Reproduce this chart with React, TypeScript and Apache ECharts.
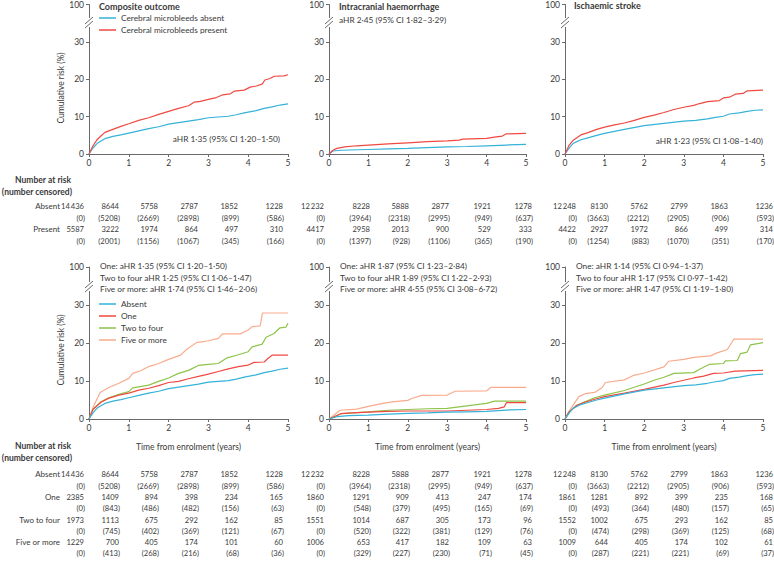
import React, { useEffect, useRef } from "react";
import * as echarts from "echarts";

// ---------- DATA ----------
const xTicks = [0, 1, 2, 3, 4, 5];
const yTickLabels = ["0", "10", "20", "30", "100"];

const titles = ["Composite outcome", "Intracranial haemorrhage", "Ischaemic stroke"];
const topGroups = ["Cerebral microbleeds absent", "Cerebral microbleeds present"];
const bottomGroups = ["Absent", "One", "Two to four", "Five or more"];
const topRowLabels = ["Absent", "Present"];

const topAHR = [
  "aHR 1·35 (95% CI 1·20–1·50)",
  "aHR 2·45 (95% CI 1·82–3·29)",
  "aHR 1·23 (95% CI 1·08–1·40)",
];
const bottomAHR = [
  ["One: aHR 1·35 (95% CI 1·20–1·50)", "Two to four aHR 1·25 (95% CI 1·06–1·47)", "Five or more: aHR 1·74 (95% CI 1·46–2·06)"],
  ["One: aHR 1·87 (95% CI 1·23–2·84)", "Two to four aHR 1·89 (95% CI 1·22–2·93)", "Five or more: aHR 4·55 (95% CI 3·08–6·72)"],
  ["One: aHR 1·14 (95% CI 0·94–1·37)", "Two to four aHR 1·17 (95% CI 0·97–1·42)", "Five or more: aHR 1·47 (95% CI 1·19–1·80)"],
];

// cumulative risk curves [years, %]
const compAbsent = [[0,0],[0.1,1.6],[0.2,2.8],[0.3,3.5],[0.4,4.1],[0.6,4.7],[0.8,5.1],[1,5.6],[1.25,6.2],[1.5,6.8],[1.75,7.3],[2,8.0],[2.25,8.4],[2.5,8.8],[2.75,9.2],[3,9.7],[3.25,9.9],[3.5,10.1],[3.7,10.5],[3.9,11.0],[4,11.2],[4.2,11.6],[4.4,12.2],[4.6,12.6],[4.8,13.1],[5,13.4]];
const compPresent = [[0,0],[0.1,2.2],[0.2,3.8],[0.3,4.8],[0.4,5.8],[0.6,6.6],[0.8,7.4],[1,8.1],[1.25,9.0],[1.5,9.7],[1.75,10.6],[2,11.4],[2.25,12.2],[2.5,12.9],[2.65,13.9],[2.8,14.1],[3,14.6],[3.2,15.1],[3.35,15.8],[3.55,16.1],[3.65,16.8],[3.9,17.1],[4.05,17.9],[4.2,18.2],[4.35,18.7],[4.42,19.8],[4.55,20.2],[4.65,20.8],[4.9,20.9],[5,21.2]];
const ichAbsent = [[0,0],[0.1,0.8],[0.3,1.0],[1,1.2],[1.5,1.35],[2,1.5],[2.5,1.7],[3,1.9],[3.5,2.0],[4,2.2],[4.5,2.4],[5,2.6]];
const ichPresent = [[0,0],[0.1,1.0],[0.2,1.5],[0.4,1.9],[0.7,2.2],[1,2.4],[1.5,2.7],[2,3.0],[2.5,3.3],[3,3.5],[3.3,3.7],[3.4,4.0],[4,4.2],[4.2,4.5],[4.4,4.8],[4.5,5.4],[5,5.5]];
const isAbsent = [[0,0],[0.1,1.5],[0.2,2.8],[0.3,3.3],[0.4,3.8],[0.6,4.4],[0.8,5.0],[1,5.5],[1.5,6.6],[2,7.6],[2.5,8.2],[3,8.8],[3.3,9.0],[3.6,9.4],[3.8,9.8],[4,10.1],[4.15,10.7],[4.4,11.0],[4.6,11.4],[4.8,11.7],[5,11.8]];
const isPresent = [[0,0],[0.1,2.3],[0.2,3.6],[0.4,5.1],[0.6,5.8],[0.8,6.6],[1,7.2],[1.25,7.8],[1.5,8.3],[1.75,9.0],[2,9.8],[2.25,10.4],[2.5,11.1],[2.75,11.9],[3,12.5],[3.25,13.0],[3.4,13.5],[3.6,14.0],[3.9,14.3],[4,15.0],[4.15,15.2],[4.3,16.0],[4.5,16.2],[4.6,16.9],[5,17.1]];

const compOne = [[0,0],[0.1,2.5],[0.3,4.4],[0.5,5.5],[0.75,6.3],[1,6.8],[1.25,7.6],[1.5,8.1],[1.75,8.8],[2,9.6],[2.25,9.9],[2.5,10.6],[2.75,11.2],[3,11.8],[3.25,12.5],[3.5,13.2],[3.75,13.8],[4,14.2],[4.15,14.9],[4.4,15.0],[4.5,16.0],[4.6,16.8],[5,16.8]];
const compTwoFour = [[0,0],[0.1,2.6],[0.3,4.5],[0.5,5.6],[0.75,6.5],[1,7.2],[1.1,8.2],[1.5,8.9],[1.75,9.9],[2,10.8],[2.25,12.0],[2.5,12.8],[2.75,14.1],[3,14.4],[3.25,14.6],[3.45,16.0],[3.75,16.9],[4,17.7],[4.1,19.0],[4.35,19.7],[4.45,21.5],[4.65,22.5],[4.8,24.0],[4.95,24.2],[5,25.2]];
const compFive = [[0,0],[0.1,3.0],[0.28,7.0],[0.5,8.3],[0.75,9.4],[1,10.7],[1.1,12.0],[1.3,12.7],[1.5,13.8],[1.75,14.6],[2,15.7],[2.3,16.8],[2.45,18.3],[2.7,20.1],[3,20.6],[3.25,21.2],[3.35,22.4],[3.8,22.4],[4,23.4],[4.1,24.3],[4.3,24.5],[4.36,27.9],[5,27.9]];
const ichAbsentB = [[0,0],[0.2,0.6],[0.5,0.9],[1,1.0],[1.5,1.3],[2,1.5],[2.5,1.6],[3,1.8],[3.5,1.9],[4,2.0],[4.3,2.2],[4.6,2.4],[5,2.5]];
const ichOne = [[0,0],[0.3,1.4],[0.6,1.6],[1,1.8],[1.5,2.0],[2,2.1],[3,2.1],[3.5,2.3],[4,2.5],[4.3,2.8],[4.45,3.2],[4.5,4.3],[5,4.3]];
const ichTwoFour = [[0,0],[0.3,1.4],[0.6,1.6],[1,1.9],[1.5,2.3],[2,2.5],[2.5,2.7],[3,2.8],[3.3,3.2],[3.7,3.7],[4,4.1],[4.2,4.7],[5,4.7]];
const ichFive = [[0,0],[0.28,2.3],[0.7,2.6],[1,3.3],[1.37,4.1],[1.6,4.5],[2,4.9],[2.1,5.4],[2.35,6.2],[3,6.3],[3.2,7.3],[4,7.4],[4.1,8.3],[5,8.3]];
const isOne = [[0,0],[0.1,1.8],[0.3,3.6],[0.5,4.4],[0.75,5.2],[1,5.9],[1.5,6.8],[2,7.8],[2.5,8.9],[2.75,9.6],[3,10.2],[3.25,10.8],[3.5,11.3],[3.75,12.0],[4,12.1],[4.3,12.6],[5,12.8]];
const isTwoFour = [[0,0],[0.1,1.8],[0.3,3.6],[0.5,4.5],[0.75,5.6],[1,6.3],[1.5,7.5],[2,9.2],[2.25,10.2],[2.5,11.0],[2.75,12.0],[3.25,12.2],[3.4,13.1],[3.65,14.4],[4,14.6],[4.05,15.3],[4.35,15.4],[4.43,17.2],[4.6,17.6],[4.68,19.5],[4.9,19.9],[5,20.1]];
const isFive = [[0,0],[0.1,2.0],[0.35,5.9],[0.52,6.7],[0.75,7.0],[0.94,8.3],[1.02,9.6],[1.5,10.3],[1.74,11.5],[2,12.1],[2.5,13.7],[2.62,15.2],[3,15.7],[3.25,16.2],[3.67,16.6],[3.84,17.4],[4.1,18.3],[4.26,21.0],[5,21.0]];

// number at risk / censored
const compAbsentRisk = [14436, 8644, 5758, 2787, 1852, 1228];
const compAbsentCens = [0, 5208, 2669, 2898, 899, 586];
const compPresentRisk = [5587, 3222, 1974, 864, 497, 310];
const compPresentCens = [0, 2001, 1156, 1067, 345, 166];
const ichAbsentRisk = [12232, 8228, 5888, 2877, 1921, 1278];
const ichAbsentCens = [0, 3964, 2318, 2995, 949, 637];
const ichPresentRisk = [4417, 2958, 2013, 900, 529, 333];
const ichPresentCens = [0, 1397, 928, 1106, 365, 190];
const isAbsentRisk = [12248, 8130, 5762, 2799, 1863, 1236];
const isAbsentCens = [0, 3663, 2212, 2905, 906, 593];
const isPresentRisk = [4422, 2927, 1972, 866, 499, 314];
const isPresentCens = [0, 1254, 883, 1070, 351, 170];

const compOneRisk = [2385, 1409, 894, 398, 234, 165];
const compOneCens = [0, 843, 486, 482, 156, 63];
const compTwoRisk = [1973, 1113, 675, 292, 162, 85];
const compTwoCens = [0, 745, 402, 369, 121, 67];
const compFiveRisk = [1229, 700, 405, 174, 101, 60];
const compFiveCens = [0, 413, 268, 216, 68, 36];
const ichOneRisk = [1860, 1291, 909, 413, 247, 174];
const ichOneCens = [0, 548, 379, 495, 165, 69];
const ichTwoRisk = [1551, 1014, 687, 305, 173, 96];
const ichTwoCens = [0, 520, 322, 381, 129, 76];
const ichFiveRisk = [1006, 653, 417, 182, 109, 63];
const ichFiveCens = [0, 329, 227, 230, 71, 45];
const isOneRisk = [1861, 1281, 892, 399, 235, 168];
const isOneCens = [0, 493, 364, 480, 157, 65];
const isTwoRisk = [1552, 1002, 675, 293, 162, 85];
const isTwoCens = [0, 474, 298, 369, 125, 68];
const isFiveRisk = [1009, 644, 405, 174, 102, 61];
const isFiveCens = [0, 287, 221, 221, 69, 37];

// ---------- STYLE / LAYOUT ----------
const FONT = "Lato";
const TXT = "#3a3a3a";
const AXIS = "#6a6a6a";
const colors = ["#35b2d8", "#ef4a42", "#8dc449", "#f9ab8e"];
const colLeft = [89, 329, 565];
const colWidth = [199, 197, 198];
const rowTop = [3, 267];
const rowHeight = [151, 152];
const tableRight = [
  [84, 119, 158, 198, 238, 283],
  [324, 370, 409, 449, 491, 532],
  [576, 608, 648, 688, 728, 773],
];
const NUM_SIZE = 7.6;
const LABEL_RIGHT = 60;

const fmt = (n: number) => (n >= 10000 ? Math.floor(n / 1000) + "\u2009" + String(n % 1000).padStart(3, "0") : String(n));

export default function App() {
  const ref = useRef<HTMLDivElement>(null);
  useEffect(() => {
    document.body.style.margin = "0";
    const chart = echarts.init(ref.current!, null, { renderer: "svg" });

    const grids: any[] = [];
    const xAxes: any[] = [];
    const yAxes: any[] = [];
    for (let r = 0; r < 2; r++) {
      for (let c = 0; c < 3; c++) {
        grids.push({ left: colLeft[c], top: rowTop[r], width: colWidth[c], height: rowHeight[r] });
        const gi = r * 3 + c;
        xAxes.push({
          type: "value", gridIndex: gi, min: xTicks[0], max: xTicks[xTicks.length - 1], interval: 1,
          axisLine: { lineStyle: { color: AXIS, width: 1 } },
          axisTick: { length: 3, lineStyle: { color: AXIS } },
          axisLabel: { margin: 4, fontSize: 8.5, fontFamily: FONT, color: TXT },
          splitLine: { show: false },
          name: r === 1 ? "Time from enrolment (years)" : "",
          nameLocation: "middle", nameGap: 23,
          nameTextStyle: { fontSize: 8.5, fontFamily: FONT, color: TXT },
        });
        yAxes.push({
          type: "value", gridIndex: gi, min: 0, max: 40, interval: 10,
          axisLine: { show: true, lineStyle: { color: AXIS, width: 1 } },
          axisTick: { show: true, length: 3, lineStyle: { color: AXIS } },
          axisLabel: { margin: 5, fontSize: 8.5, fontFamily: FONT, color: TXT, formatter: (v: number) => yTickLabels[v / 10] },
          splitLine: { show: false },
        });
      }
    }

    const topCurves = [[compAbsent, compPresent], [ichAbsent, ichPresent], [isAbsent, isPresent]];
    const bottomCurves = [
      [compAbsent, compOne, compTwoFour, compFive],
      [ichAbsentB, ichOne, ichTwoFour, ichFive],
      [isAbsent, isOne, isTwoFour, isFive],
    ];
    const series: any[] = [];
    topCurves.forEach((curves, c) =>
      curves.forEach((d, k) =>
        series.push({ type: "line", name: topGroups[k], xAxisIndex: c, yAxisIndex: c, data: d, symbol: "none", color: colors[k], lineStyle: { width: 1.2 }, z: 3 })
      )
    );
    bottomCurves.forEach((curves, c) =>
      curves.forEach((d, k) =>
        series.push({ type: "line", name: bottomGroups[k], xAxisIndex: 3 + c, yAxisIndex: 3 + c, data: d, symbol: "none", color: colors[k], lineStyle: { width: 1.2 }, z: 3 + (3 - k) })
      )
    );

    const g: any[] = [];
    const txt = (text: string, x: number, y: number, o: any = {}) =>
      g.push({ type: "text", x, y, z: 10, style: { text, fontSize: o.size || 8, fontFamily: FONT, fontWeight: o.bold ? "bold" : "normal", fill: TXT, textAlign: o.align || "left", textVerticalAlign: "middle" }, rotation: o.rot || 0 });

    // axis breaks
    for (let r = 0; r < 2; r++)
      for (let c = 0; c < 3; c++) {
        const ax = colLeft[c], t = rowTop[r];
        g.push({ type: "rect", z: 9, shape: { x: ax - 2, y: t + 15, width: 4, height: 9 }, style: { fill: "#fff" } });
        g.push({ type: "line", z: 10, shape: { x1: ax - 4, y1: t + 21, x2: ax + 4, y2: t + 14 }, style: { stroke: AXIS, lineWidth: 1 } });
        g.push({ type: "line", z: 10, shape: { x1: ax - 4, y1: t + 25, x2: ax + 4, y2: t + 18 }, style: { stroke: AXIS, lineWidth: 1 } });
      }

    // titles and annotations
    txt(titles[0], 99, 6, { bold: true, size: 9 });
    txt(titles[1], 339, 6, { bold: true, size: 9 });
    txt(titles[2], 574, 5, { bold: true, size: 9 });
    txt(topAHR[0], 280, 139, { align: "right", size: 8.3 });
    txt(topAHR[1], 339, 20, { size: 8.3 });
    txt(topAHR[2], 763, 141, { align: "right", size: 8.3 });
    const annX = [100, 340, 576];
    bottomAHR.forEach((lines, c) => lines.forEach((l, i) => txt(l, annX[c], 266 + i * 11.5, { size: 8.3 })));

    txt("Cumulative risk (%)", 61, 88, { rot: Math.PI / 2, align: "center", size: 8.5 });
    txt("Cumulative risk (%)", 61, 350, { rot: Math.PI / 2, align: "center", size: 8.5 });

    // number at risk tables
    txt("Number at risk", 71, 180, { bold: true, align: "right", size: 8.5 });
    txt("(number censored)", 72, 192, { bold: true, align: "right", size: 8.5 });
    txt("Number at risk", 71, 446, { bold: true, align: "right", size: 8.5 });
    txt("(number censored)", 72, 458, { bold: true, align: "right", size: 8.5 });

    const topTable = [
      [[compAbsentRisk, compAbsentCens], [compPresentRisk, compPresentCens]],
      [[ichAbsentRisk, ichAbsentCens], [ichPresentRisk, ichPresentCens]],
      [[isAbsentRisk, isAbsentCens], [isPresentRisk, isPresentCens]],
    ];
    const topRowsY = [206, 217.5, 229, 240.5];
    topRowLabels.forEach((l, k) => txt(l, LABEL_RIGHT, topRowsY[k * 2], { align: "right" }));
    topTable.forEach((groups, c) =>
      groups.forEach(([risk, cens], k) =>
        xTicks.forEach((_, i) => {
          txt(fmt(risk[i]), tableRight[c][i], topRowsY[k * 2], { align: "right", size: NUM_SIZE });
          txt("(" + fmt(cens[i]) + ")", tableRight[c][i] + 1, topRowsY[k * 2 + 1], { align: "right", size: NUM_SIZE });
        })
      )
    );

    const bottomTable = [
      [[compAbsentRisk, compAbsentCens], [compOneRisk, compOneCens], [compTwoRisk, compTwoCens], [compFiveRisk, compFiveCens]],
      [[ichAbsentRisk, ichAbsentCens], [ichOneRisk, ichOneCens], [ichTwoRisk, ichTwoCens], [ichFiveRisk, ichFiveCens]],
      [[isAbsentRisk, isAbsentCens], [isOneRisk, isOneCens], [isTwoRisk, isTwoCens], [isFiveRisk, isFiveCens]],
    ];
    const botRowsY = [474, 485.5, 497, 508.3, 519.5, 530.8, 542, 553.3];
    bottomGroups.forEach((l, k) => txt(l, LABEL_RIGHT, botRowsY[k * 2], { align: "right" }));
    bottomTable.forEach((groups, c) =>
      groups.forEach(([risk, cens], k) =>
        xTicks.forEach((_, i) => {
          txt(fmt(risk[i]), tableRight[c][i], botRowsY[k * 2], { align: "right", size: NUM_SIZE });
          txt("(" + fmt(cens[i]) + ")", tableRight[c][i] + 1, botRowsY[k * 2 + 1], { align: "right", size: NUM_SIZE });
        })
      )
    );

    const legendBase = {
      orient: "vertical", icon: "rect", itemWidth: 17, itemHeight: 1.5, itemGap: 2, padding: 0,
      textStyle: { fontSize: 8.3, fontFamily: FONT, color: TXT, lineHeight: 10 },
      selectedMode: false,
    };

    chart.setOption({
      animation: false,
      grid: grids,
      xAxis: xAxes,
      yAxis: yAxes,
      legend: [
        { ...legendBase, data: topGroups, left: 99, top: 13 },
        { ...legendBase, data: bottomGroups, left: 99, top: 299 },
      ],
      series,
      graphic: g,
    });
    return () => chart.dispose();
  }, []);
  return <div ref={ref} style={{ width: 774, height: 562 }} />;
}
